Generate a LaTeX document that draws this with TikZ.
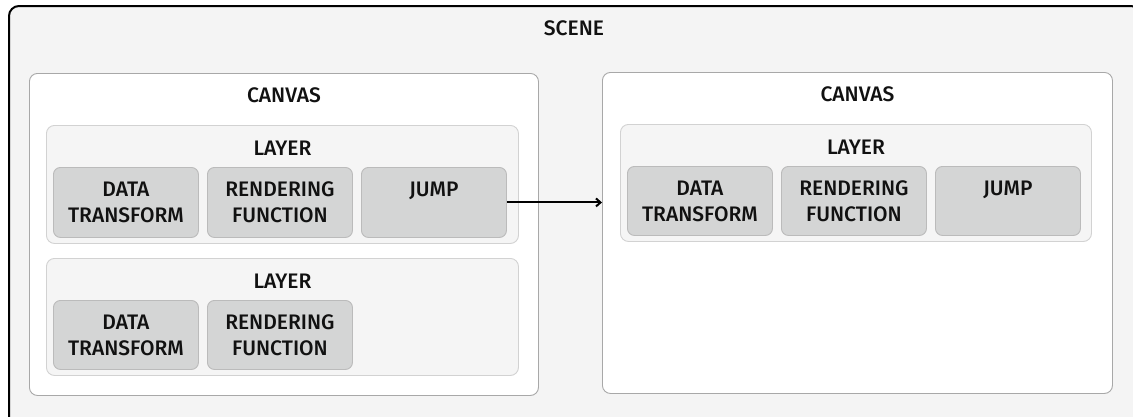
\documentclass[tikz,border=0pt]{standalone}
\usepackage{fontspec}
\setmainfont{Liberation Sans}
\newfontfamily\medfont{Fira Sans}[UprightFont={* Medium}]
\usetikzlibrary{arrows.meta,calc}
\definecolor{scenebg}{HTML}{F4F4F4}
\definecolor{layerbg}{HTML}{F5F5F5}
\definecolor{canvasline}{HTML}{A8A8A8}
\definecolor{layerline}{HTML}{D2D2D2}
\definecolor{boxline}{HTML}{BBBBBB}
\definecolor{boxbg}{HTML}{D4D5D5}
\definecolor{txt}{HTML}{111111}
\newcommand\diaglbl{\medfont\fontsize{21}{26}\selectfont}
\begin{document}
\begin{tikzpicture}[x=1pt,y=-1pt,
  scenebox/.style={draw=black, line width=2pt, fill=scenebg, rounded corners=10pt, anchor=north west, inner sep=0pt},
  canvasbox/.style={draw=canvasline, line width=0.9pt, fill=white, rounded corners=8pt, anchor=north west, inner sep=0pt},
  layerbox/.style={draw=layerline, line width=0.9pt, fill=layerbg, rounded corners=8pt, anchor=north west, inner sep=0pt, minimum width=472pt},
  fnbox/.style={draw=boxline, line width=0.9pt, fill=boxbg, rounded corners=7pt, anchor=north west, minimum width=145pt, minimum height=70pt, inner sep=0pt, align=center, font=\diaglbl, text=txt},
  title/.style={anchor=base, font=\diaglbl, inner sep=0pt, text=txt},
  link/.style={draw=black, line width=2pt, -{Straight Barb[length=4.5pt,width=8pt]}}
]
\useasboundingbox (0,0) rectangle (1133,416);
\clip (0,0) rectangle (1133,416);
% scene
\node[scenebox, minimum width=1132pt, minimum height=430pt] (scene) at (8,5) {};
\node[title] (scenet) at (574,35) {SCENE};
% left canvas
\node[canvasbox, minimum width=509pt, minimum height=322pt] (c1) at (29,73) {};
\node[title] (c1t) at ($(c1.north)+(0,29)$) {CANVAS};
\node[layerbox, minimum height=118pt] (l1) at (46,125) {};
\node[title] (l1t) at ($(l1.north)+(0,30)$) {LAYER};
\node[fnbox] (d1) at (53,167) {DATA\\TRANSFORM};
\node[fnbox] (r1) at (207,167) {RENDERING\\FUNCTION};
\node[fnbox] (j1) at (361,167) {JUMP\\\mbox{}};
\node[layerbox, minimum height=117pt] (l2) at (46,258) {};
\node[title] (l2t) at ($(l2.north)+(0,30)$) {LAYER};
\node[fnbox, minimum height=69pt] (d2) at (53,300) {DATA\\TRANSFORM};
\node[fnbox, minimum height=69pt] (r2) at (207,300) {RENDERING\\FUNCTION};
% right canvas
\node[canvasbox, minimum width=510pt, minimum height=321pt] (c2) at (602,72) {};
\node[title] (c2t) at ($(c2.north)+(0,29)$) {CANVAS};
\node[layerbox, minimum width=471pt, minimum height=117pt] (l3) at (620,124) {};
\node[title] (l3t) at ($(l3.north)+(0,30)$) {LAYER};
\node[fnbox, minimum height=69pt] (d3) at (627,166) {DATA\\TRANSFORM};
\node[fnbox, minimum height=69pt] (r3) at (781,166) {RENDERING\\FUNCTION};
\node[fnbox, minimum height=69pt] (j3) at (935,166) {JUMP\\\mbox{}};
% connector
\draw[link] (j1.east) -- (j1.east -| c2.west);
\end{tikzpicture}
\end{document}
